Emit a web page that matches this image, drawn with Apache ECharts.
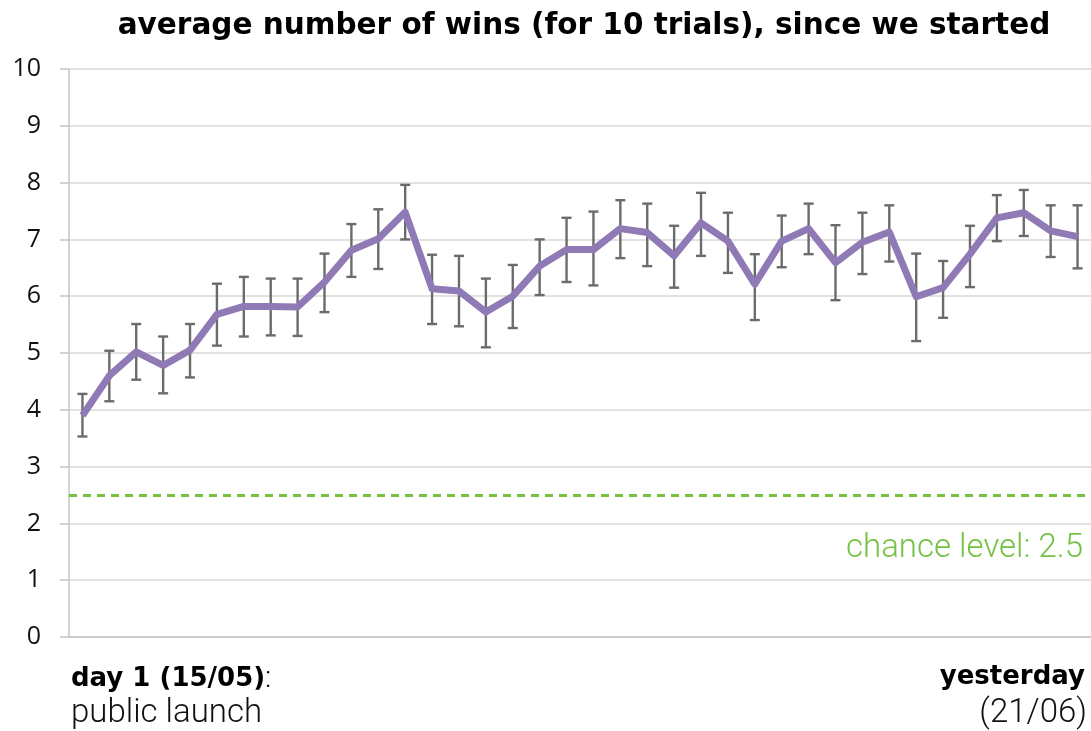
<!DOCTYPE html>
<html>
<head>
<meta charset="utf-8">
<script src="https://cdn.jsdelivr.net/npm/echarts@6/dist/echarts.min.js"></script>
<style>
html, body { margin: 0; padding: 0; background: #fff; }
#chartMain { width: 1091px; height: 731px; }
</style>
</head>
<body>
<div id="chartMain"></div>
<script>
// one point per day, 15/05 -> 21/06
const days = [
    '15/05','16/05','17/05','18/05','19/05','20/05','21/05','22/05','23/05','24/05',
    '25/05','26/05','27/05','28/05','29/05','30/05','31/05',
    '01/06','02/06','03/06','04/06','05/06','06/06','07/06','08/06','09/06','10/06',
    '11/06','12/06','13/06','14/06','15/06','16/06','17/06','18/06','19/06','20/06','21/06'
];
const avgWins = [
    3.9, 4.6, 5.02, 4.78, 5.05, 5.68, 5.82, 5.82, 5.81, 6.25,
    6.81, 7.01, 7.48, 6.13, 6.09, 5.72, 6.0, 6.53, 6.82, 6.82,
    7.19, 7.12, 6.71, 7.29, 6.97, 6.21, 6.97, 7.19, 6.59, 6.95,
    7.13, 5.99, 6.15, 6.74, 7.38, 7.47, 7.15, 7.05
];
const errTop = [
    4.28, 5.04, 5.51, 5.29, 5.51, 6.22, 6.34, 6.31, 6.31, 6.75,
    7.27, 7.53, 7.96, 6.73, 6.71, 6.31, 6.55, 7.0, 7.38, 7.49,
    7.69, 7.63, 7.24, 7.82, 7.47, 6.74, 7.42, 7.63, 7.25, 7.47,
    7.60, 6.75, 6.62, 7.24, 7.78, 7.87, 7.60, 7.60
];
const errBottom = [
    3.53, 4.15, 4.53, 4.29, 4.57, 5.13, 5.29, 5.31, 5.30, 5.72,
    6.34, 6.48, 7.0, 5.51, 5.47, 5.10, 5.44, 6.02, 6.25, 6.19,
    6.67, 6.53, 6.15, 6.71, 6.41, 5.58, 6.51, 6.74, 5.93, 6.39,
    6.61, 5.21, 5.62, 6.16, 6.97, 7.06, 6.69, 6.49
];
const yTicks = [0, 1, 2, 3, 4, 5, 6, 7, 8, 9, 10];
const chanceLevel = 2.5;

const purple = '#8f7ab6';
const green = '#74c241';
const boldFont = 'DejaVu Sans';
const lightFont = 'Roboto';

let errData = days.map((d, i) => [i, errBottom[i], errTop[i]]);

let chart = echarts.init(document.getElementById('chartMain'));
chart.setOption({
    animation: false,
    title: {
        text: 'average number of wins (for 10 trials), since we started',
        left: 579,
        textAlign: 'center',
        top: 6,
        textStyle: {
            fontFamily: boldFont,
            fontWeight: 'bold',
            fontSize: 29.5,
            color: '#000'
        }
    },
    grid: { left: 69, right: 0, top: 69, bottom: 94 },
    xAxis: {
        type: 'category',
        data: days,
        boundaryGap: true,
        axisLine: { show: true, lineStyle: { color: '#c4c4c4', width: 1.5 } },
        axisTick: { show: false },
        axisLabel: { show: false }
    },
    yAxis: {
        type: 'value',
        min: yTicks[0],
        max: yTicks[yTicks.length - 1],
        interval: 1,
        axisLine: { show: true, lineStyle: { color: '#c4c4c4', width: 1.5 } },
        axisTick: { show: true, length: 9, lineStyle: { color: '#c4c4c4', width: 1.5 } },
        axisLabel: {
            margin: 28,
            fontFamily: 'Open Sans',
            fontSize: 25,
            color: '#111',
            padding: [8, 0, 0, 0]
        },
        splitLine: { lineStyle: { color: '#d9d9d9', width: 1.5 } }
    },
    series: [
        {
            type: 'custom',
            name: 'error',
            z: 2,
            data: errData,
            renderItem(params, api) {
                let lo = api.coord([api.value(0), api.value(1)]);
                let hi = api.coord([api.value(0), api.value(2)]);
                let cap = 5;
                let style = { stroke: '#6b6b6b', lineWidth: 2.4 };
                return {
                    type: 'group',
                    children: [
                        { type: 'line', shape: { x1: lo[0], y1: lo[1], x2: hi[0], y2: hi[1] }, style: style },
                        { type: 'line', shape: { x1: lo[0] - cap, y1: lo[1], x2: lo[0] + cap, y2: lo[1] }, style: style },
                        { type: 'line', shape: { x1: hi[0] - cap, y1: hi[1], x2: hi[0] + cap, y2: hi[1] }, style: style }
                    ]
                };
            }
        },
        {
            type: 'line',
            name: 'wins',
            z: 3,
            data: avgWins,
            showSymbol: false,
            lineStyle: { color: purple, width: 7, join: 'round' },
            markLine: {
                silent: true,
                symbol: 'none',
                lineStyle: { color: green, type: [8, 6], width: 3 },
                label: {
                    show: true,
                    position: 'insideEndBottom',
                    formatter: 'chance level: ' + chanceLevel,
                    fontFamily: lightFont,
                    fontWeight: 300,
                    fontSize: 33,
                    color: green,
                    distance: [8, 37]
                },
                data: [{ yAxis: chanceLevel }]
            }
        }
    ],
    graphic: [
        {
            type: 'text',
            left: 71,
            top: 664,
            style: {
                text: '{b|day 1 (15/05)}{r|:}',
                rich: {
                    b: { fontFamily: boldFont, fontWeight: 'bold', fontSize: 26, fill: '#000' },
                    r: { fontFamily: lightFont, fontWeight: 300, fontSize: 30, fill: '#000' }
                }
            }
        },
        {
            type: 'text',
            left: 71,
            top: 697,
            style: { text: 'public launch', fontFamily: lightFont, fontWeight: 300, fontSize: 33, fill: '#111' }
        },
        {
            type: 'text',
            right: 6,
            top: 664,
            style: { text: 'yesterday', fontFamily: boldFont, fontWeight: 'bold', fontSize: 26, fill: '#000' }
        },
        {
            type: 'text',
            right: 4,
            top: 697,
            style: { text: '(21/06)', fontFamily: lightFont, fontWeight: 300, fontSize: 33, fill: '#111' }
        }
    ]
});
</script>
</body>
</html>
